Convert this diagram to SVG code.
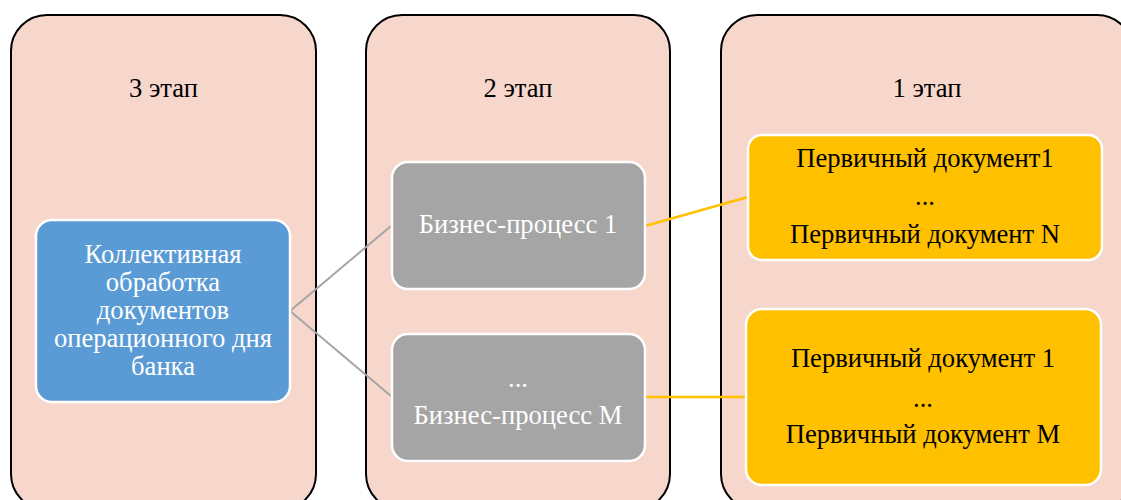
<svg xmlns="http://www.w3.org/2000/svg" width="1121" height="500" viewBox="0 0 1121 500">
<style>
.panel{fill:#f7d7cc;stroke:#000;stroke-width:2}
.box{stroke:#fff;stroke-width:2.5}
.blue{fill:#5b9bd5}
.gray{fill:#a5a5a5}
.yellow{fill:#ffc000}
text{font-family:"Liberation Serif","Times New Roman",serif;font-size:26.6px;text-anchor:middle}
.title{fill:#000}
.w{fill:#fff}
.k{fill:#000}
.cg{stroke:#a5a5a5;stroke-width:2;fill:none}
.cy{stroke:#ffc000;stroke-width:2.5;fill:none}
</style>
<rect width="1121" height="500" fill="#fff"/>
<g id="panel3">
<rect class="panel" x="11" y="15" width="305" height="495" rx="36"/>
<text class="title" x="163.5" y="97">3 этап</text>
</g>
<g id="panel2">
<rect class="panel" x="366" y="15" width="304" height="495" rx="36"/>
<text class="title" x="518" y="97">2 этап</text>
</g>
<g id="panel1">
<rect class="panel" x="721" y="15" width="412" height="495" rx="36"/>
<text class="title" x="927" y="97">1 этап</text>
</g>
<g id="connectors">
<line class="cg" x1="290" y1="311" x2="391" y2="226"/>
<line class="cg" x1="290" y1="311" x2="391" y2="396"/>
<line class="cy" x1="645" y1="226" x2="748" y2="197"/>
<line class="cy" x1="645" y1="397" x2="746" y2="397"/>
</g>
<g id="collective">
<rect class="box blue" x="36" y="220" width="254" height="182" rx="16"/>
<text class="w" x="163" y="263">Коллективная</text>
<text class="w" x="163" y="291">обработка</text>
<text class="w" x="163" y="319">документов</text>
<text class="w" x="163" y="347">операционного дня</text>
<text class="w" x="163" y="375">банка</text>
</g>
<g id="bp1">
<rect class="box gray" x="392" y="162" width="253" height="127" rx="16"/>
<text class="w" x="518" y="233">Бизнес-процесс 1</text>
</g>
<g id="bpM">
<rect class="box gray" x="392" y="334" width="253" height="127" rx="16"/>
<text class="w" x="518" y="387">...</text>
<text class="w" x="518" y="424">Бизнес-процесс М</text>
</g>
<g id="docs1">
<rect class="box yellow" x="748" y="135" width="354" height="125" rx="14"/>
<text class="k" x="925" y="167">Первичный документ1</text>
<text class="k" x="925" y="205">...</text>
<text class="k" x="925" y="243">Первичный документ N</text>
</g>
<g id="docsM">
<rect class="box yellow" x="746" y="309" width="355" height="176" rx="16"/>
<text class="k" x="923" y="367">Первичный документ 1</text>
<text class="k" x="923" y="407">...</text>
<text class="k" x="923" y="443">Первичный документ М</text>
</g>
</svg>
